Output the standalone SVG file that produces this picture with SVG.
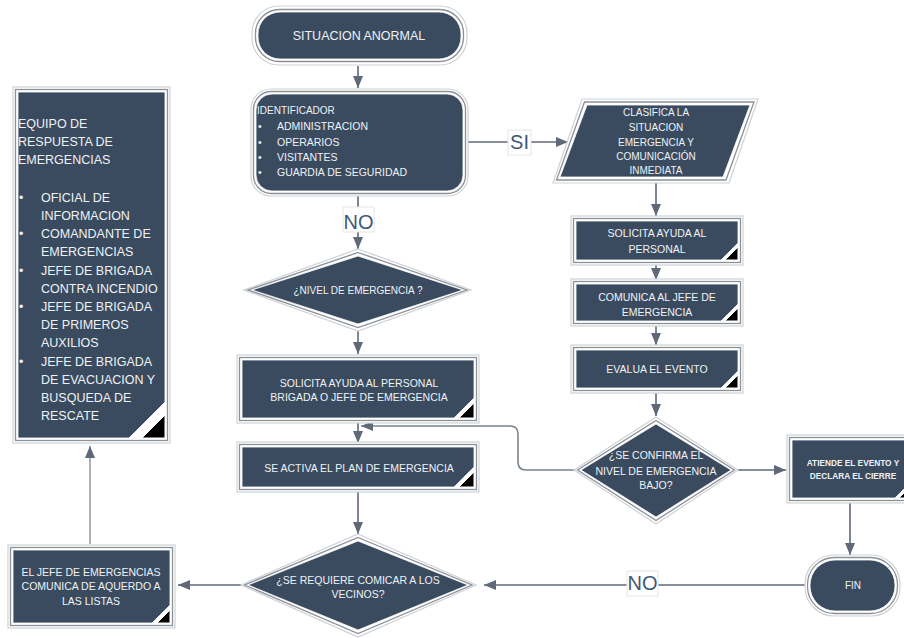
<svg xmlns="http://www.w3.org/2000/svg" width="904" height="638" viewBox="0 0 904 638">
<defs>
<style>
.halo{fill:#fff;stroke:#cfd2d6;stroke-width:1.2}
.gl{fill:none;stroke:#8b9199;stroke-width:1.3}
.core{fill:#3a4b5f;stroke:#fff;stroke-width:0.8}
.tri{fill:#000;stroke:#fff;stroke-width:1}
.t{font-family:"Liberation Sans",Arial,sans-serif;fill:#eef2f6;font-size:10.5px}
.c{text-anchor:middle}
.big{font-size:12.5px}
.sm{font-size:8.3px}
.con{fill:none;stroke:#5f6978;stroke-width:1.6}
.lbl{font-family:"Liberation Sans",Arial,sans-serif;font-size:20px;fill:#3f5878;text-anchor:middle}
.lb{fill:#fff;stroke:#e6e6e6;stroke-width:1}
</style>
<marker id="ah" markerUnits="userSpaceOnUse" markerWidth="12" markerHeight="10" refX="12" refY="5" orient="auto">
<path d="M0,0 L12,5 L0,10 z" fill="#5f6978"/>
</marker>
</defs>
<rect width="904" height="638" fill="#fff"/>

<g id="connectors">
<line class="con" x1="358" y1="66" x2="358" y2="88" marker-end="url(#ah)"/>
<line class="con" x1="468" y1="142" x2="568" y2="142" marker-end="url(#ah)"/>
<line class="con" x1="358" y1="196" x2="358" y2="249" marker-end="url(#ah)"/>
<line class="con" x1="358" y1="331" x2="358" y2="354" marker-end="url(#ah)"/>
<line class="con" x1="358" y1="423" x2="358" y2="443" marker-end="url(#ah)"/>
<path class="con" d="M574,470 L526,470 Q518,470 518,462 L518,434 Q518,426 510,426 L361,426" style="stroke:#7a828d" marker-end="url(#ah)"/>
<line class="con" x1="358" y1="492" x2="358" y2="534" marker-end="url(#ah)"/>
<line class="con" x1="241" y1="585" x2="178" y2="585" marker-end="url(#ah)"/>
<line class="con" x1="90" y1="544" x2="90" y2="446" style="stroke:#9aa1aa" marker-end="url(#ah)"/>
<line class="con" x1="656" y1="183" x2="656" y2="216" marker-end="url(#ah)"/>
<line class="con" x1="656" y1="265" x2="656" y2="280" marker-end="url(#ah)"/>
<line class="con" x1="656" y1="326" x2="656" y2="345" marker-end="url(#ah)"/>
<line class="con" x1="656" y1="393" x2="656" y2="416" marker-end="url(#ah)"/>
<line class="con" x1="738" y1="470" x2="786" y2="470" marker-end="url(#ah)"/>
<line class="con" x1="850" y1="503" x2="850" y2="555" marker-end="url(#ah)"/>
<line class="con" x1="805" y1="585" x2="484" y2="585" marker-end="url(#ah)"/>
<rect class="lb" x="508" y="130" width="23" height="25"/>
<text class="lbl" x="519.5" y="149">SI</text>
<rect class="lb" x="343" y="207" width="31" height="25"/>
<text class="lbl" x="358.5" y="229">NO</text>
<rect class="lb" x="627" y="571" width="31" height="25"/>
<text class="lbl" x="642.5" y="590">NO</text>
</g>

<g id="situacion">
<rect class="halo" x="252" y="6" width="215" height="59" rx="27"/>
<rect class="gl" x="255.5" y="9.5" width="208" height="52" rx="24"/>
<rect class="core" x="258" y="12" width="203" height="47" rx="22"/>
<text class="t big c" x="359" y="39.5">SITUACION ANORMAL</text>
</g>

<g id="identificador">
<rect class="halo" x="251" y="89" width="217" height="107" rx="20"/>
<rect class="gl" x="253.5" y="91.5" width="212" height="102" rx="18"/>
<rect class="core" x="256" y="94" width="207" height="97" rx="16"/>
<text class="t" x="257" y="114" style="font-size:10px">IDENTIFICADOR</text>
<text class="t" x="258" y="130">•</text>
<text class="t" x="277" y="130">ADMINISTRACION</text>
<text class="t" x="258" y="146">•</text>
<text class="t" x="277" y="146">OPERARIOS</text>
<text class="t" x="258" y="161">•</text>
<text class="t" x="277" y="161">VISITANTES</text>
<text class="t" x="258" y="176">•</text>
<text class="t" x="277" y="176">GUARDIA DE SEGURIDAD</text>
</g>

<g id="clasifica">
<polygon class="halo" points="582,99 758,99 729,183 553,183"/>
<polygon class="gl" points="584.5,102 754,102 726,180 556.5,180"/>
<polygon class="core" points="587,105 750,105 723,177 560,177"/>
<text class="t c" x="656" y="116" style="font-size:10px">CLASIFICA LA</text>
<text class="t c" x="656" y="131" style="font-size:10px">SITUACION</text>
<text class="t c" x="656" y="146" style="font-size:10px">EMERGENCIA Y</text>
<text class="t c" x="656" y="160" style="font-size:10px">COMUNICACIÓN</text>
<text class="t c" x="656" y="174" style="font-size:10px">INMEDIATA</text>
</g>

<g id="solicita-personal">
<rect class="halo" x="571" y="216" width="172" height="49"/>
<rect class="gl" x="573.5" y="218.5" width="167" height="44"/>
<polygon class="core" points="576,221 738,221 738,243 721,260 576,260"/>
<polygon class="tri" points="738,247 738,260 725,260"/>
<text class="t c" x="657" y="237">SOLICITA AYUDA AL</text>
<text class="t c" x="657" y="253">PERSONAL</text>
</g>

<g id="comunica-jefe">
<rect class="halo" x="571" y="279" width="172" height="47"/>
<rect class="gl" x="573.5" y="281.5" width="167" height="42"/>
<polygon class="core" points="576,284 738,284 738,304 721,321 576,321"/>
<polygon class="tri" points="738,308 738,321 725,321"/>
<text class="t c" x="657" y="301">COMUNICA AL JEFE DE</text>
<text class="t c" x="657" y="316">EMERGENCIA</text>
</g>

<g id="evalua">
<rect class="halo" x="571" y="345" width="172" height="48"/>
<rect class="gl" x="573.5" y="347.5" width="167" height="43"/>
<polygon class="core" points="576,350 738,350 738,371 721,388 576,388"/>
<polygon class="tri" points="738,375 738,388 725,388"/>
<text class="t c" x="657" y="373">EVALUA EL EVENTO</text>
</g>

<g id="confirma">
<polygon class="halo" points="656,417 738,470 656,524 574,470"/>
<polygon class="gl" points="656,420.5 734.5,470 656,520.5 577.5,470"/>
<polygon class="core" points="656,424 731,470 656,517 581,470"/>
<text class="t c" x="656" y="459">¿SE CONFIRMA EL</text>
<text class="t c" x="656" y="475">NIVEL DE EMERGENCIA</text>
<text class="t c" x="656" y="489">BAJO?</text>
</g>

<g id="atiende">
<rect class="halo" x="787" y="435" width="130" height="68"/>
<rect class="gl" x="789.5" y="437.5" width="125" height="63"/>
<polygon class="core" points="792,440 912,440 912,481 895,498 792,498"/>
<polygon class="tri" points="912,485 912,498 899,498"/>
<text class="t c sm" x="853" y="466" style="font-weight:bold">ATIENDE EL EVENTO Y</text>
<text class="t c sm" x="853" y="479" style="font-weight:bold">DECLARA EL CIERRE</text>
</g>

<g id="fin">
<rect class="halo" x="805" y="555" width="95" height="61" rx="29"/>
<rect class="gl" x="807.5" y="557.5" width="90" height="56" rx="27"/>
<rect class="core" x="810" y="560" width="85" height="51" rx="25"/>
<text class="t c" x="853" y="589" style="font-size:10px">FIN</text>
</g>

<g id="nivel">
<polygon class="halo" points="358,249 471,290 358,331 244,290"/>
<polygon class="gl" points="358,252.5 467,290 358,327.5 248,290"/>
<polygon class="core" points="358,256 463,290 358,324 252,290"/>
<text class="t c" x="358" y="294" style="font-size:10px">¿NIVEL DE EMERGENCIA ?</text>
</g>

<g id="solicita-brigada">
<rect class="halo" x="237" y="355" width="242" height="68"/>
<rect class="gl" x="239.5" y="357.5" width="237" height="63"/>
<polygon class="core" points="242,360 474,360 474,398 454,418 242,418"/>
<polygon class="tri" points="474,403 474,418 459,418"/>
<text class="t c" x="359" y="387">SOLICITA AYUDA AL PERSONAL</text>
<text class="t c" x="359" y="401">BRIGADA O JEFE DE EMERGENCIA</text>
</g>

<g id="activa-plan">
<rect class="halo" x="237" y="442" width="242" height="50"/>
<rect class="gl" x="239.5" y="444.5" width="237" height="45"/>
<polygon class="core" points="242,447 474,447 474,467 454,487 242,487"/>
<polygon class="tri" points="474,472 474,487 459,487"/>
<text class="t c" x="359" y="472">SE ACTIVA EL PLAN DE EMERGENCIA</text>
</g>

<g id="vecinos">
<polygon class="halo" points="358,534 476,585 358,637 241,585"/>
<polygon class="gl" points="358,537.5 472,585 358,633.5 244.5,585"/>
<polygon class="core" points="358,541 468,585 358,630 248,585"/>
<text class="t c" x="358" y="584">¿SE REQUIERE COMICAR A LOS</text>
<text class="t c" x="358" y="598">VECINOS?</text>
</g>

<g id="jefe-comunica">
<rect class="halo" x="8" y="545" width="167" height="83"/>
<rect class="gl" x="10.5" y="547.5" width="162" height="78"/>
<polygon class="core" points="13,550 170,550 170,605 152,623 13,623"/>
<polygon class="tri" points="170,610 170,623 157,623"/>
<text class="t c" x="91" y="576">EL JEFE DE EMERGENCIAS</text>
<text class="t c" x="91" y="590">COMUNICA DE AQUERDO A</text>
<text class="t c" x="91" y="605">LAS LISTAS</text>
</g>

<g id="equipo">
<rect class="halo" x="13" y="87" width="157" height="356"/>
<rect class="gl" x="15.5" y="89.5" width="152" height="351"/>
<polygon class="core" points="18,92 165,92 165,402 129,438 18,438"/>
<polygon class="tri" points="165,415 165,438 142,438"/>
<text class="t big" x="18" y="128">EQUIPO DE</text>
<text class="t big" x="18" y="146">RESPUESTA DE</text>
<text class="t big" x="18" y="164">EMERGENCIAS</text>
<text class="t big" x="19" y="202">•</text>
<text class="t big" x="41" y="202">OFICIAL DE</text>
<text class="t big" x="41" y="220">INFORMACION</text>
<text class="t big" x="19" y="238">•</text>
<text class="t big" x="41" y="238">COMANDANTE DE</text>
<text class="t big" x="41" y="256">EMERGENCIAS</text>
<text class="t big" x="19" y="275">•</text>
<text class="t big" x="41" y="275">JEFE DE BRIGADA</text>
<text class="t big" x="41" y="293">CONTRA INCENDIO</text>
<text class="t big" x="19" y="311">•</text>
<text class="t big" x="41" y="311">JEFE DE BRIGADA</text>
<text class="t big" x="41" y="329">DE PRIMEROS</text>
<text class="t big" x="41" y="347">AUXILIOS</text>
<text class="t big" x="19" y="366">•</text>
<text class="t big" x="41" y="366">JEFE DE BRIGADA</text>
<text class="t big" x="41" y="384">DE EVACUACION Y</text>
<text class="t big" x="41" y="402">BUSQUEDA DE</text>
<text class="t big" x="41" y="420">RESCATE</text>
</g>
</svg>
